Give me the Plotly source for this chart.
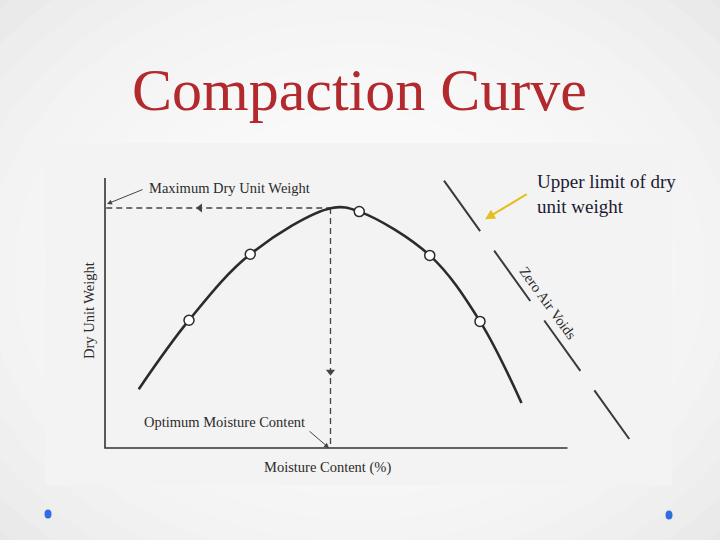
import plotly.graph_objects as go

# ---- data (moisture content %, dry unit weight kN/m3) ----
curve_moisture = [5.35, 7.36, 9.81, 13.07, 14.17, 16.99, 19.00, 20.66]
curve_weight = [14.98, 16.13, 17.23, 18.00, 17.94, 17.21, 16.11, 14.75]
test_moisture = [7.36, 9.81, 14.17, 16.99, 19.00]
test_weight = [16.13, 17.23, 17.94, 17.21, 16.11]
max_dry_weight = 18.00
optimum_moisture = 13.02
zav_moisture = [17.56, 24.97]
zav_weight = [18.455, 14.15]
axis_x = [4.0, 4.0, 22.5]
axis_y = [18.5, 14.0, 14.0]

W, H = 720, 540
FONT = "Liberation Serif"
INK = "#2b2b2b"


def px(x):
    return x / W


def py(y):
    return 1 - y / H


fig = go.Figure()

# axes
fig.add_trace(go.Scatter(x=axis_x, y=axis_y, mode="lines",
                         line=dict(color="#333333", width=1.6), hoverinfo="skip"))
# dashed guide lines
fig.add_trace(go.Scatter(x=[axis_x[0] + 0.05, optimum_moisture], y=[max_dry_weight, max_dry_weight],
                         mode="lines", line=dict(color="#444444", width=1.3, dash="6px,4px")))
fig.add_trace(go.Scatter(x=[optimum_moisture, optimum_moisture], y=[max_dry_weight, axis_y[1]],
                         mode="lines", line=dict(color="#444444", width=1.3, dash="6px,4px")))
fig.add_trace(go.Scatter(x=[7.8], y=[max_dry_weight], mode="markers",
                         marker=dict(symbol="triangle-left", size=8, color="#444444")))
fig.add_trace(go.Scatter(x=[optimum_moisture], y=[15.27], mode="markers",
                         marker=dict(symbol="triangle-down", size=8, color="#444444")))
# compaction curve
fig.add_trace(go.Scatter(x=curve_moisture, y=curve_weight, mode="lines",
                         line=dict(color=INK, width=2.6, shape="spline", smoothing=1.0)))
fig.add_trace(go.Scatter(x=test_moisture, y=test_weight, mode="markers",
                         marker=dict(symbol="circle", size=10, color="white",
                                     line=dict(color=INK, width=1.5))))
# zero air voids
fig.add_trace(go.Scatter(x=zav_moisture, y=zav_weight, mode="lines",
                         line=dict(color="#3a3a3a", width=2, dash="62px,24px")))

# background gradient and panel
shapes = []
for i in range(14):
    s = 0.80 - i * 0.04
    shapes.append(dict(type="circle", xref="paper", yref="paper",
                       x0=0.5 - s, x1=0.5 + s, y0=0.5 - s * 1.05, y1=0.5 + s * 1.05,
                       fillcolor="rgba(255,255,255,0.15)", line=dict(width=0), layer="below"))
shapes.append(dict(type="rect", xref="paper", yref="paper",
                   x0=px(45), x1=px(672), y0=py(485), y1=py(143),
                   fillcolor="#f3f3f3", line=dict(width=0), layer="below"))
for cx, cy in [(48, 514), (669, 515)]:
    shapes.append(dict(type="circle", xref="paper", yref="paper",
                       x0=px(cx - 3.5), x1=px(cx + 3.5), y0=py(cy + 4.5), y1=py(cy - 4.5),
                       fillcolor="#2f6de0", line=dict(width=0), layer="above"))

ann = []
txt = dict(family=FONT, size=14.5, color=INK)
ann.append(dict(x=8.98, y=18.333, text="Maximum Dry Unit Weight", showarrow=False, font=txt,
                xanchor="center", yanchor="middle"))
ann.append(dict(x=8.78, y=14.433, text="Optimum Moisture Content", showarrow=False, font=txt,
                xanchor="center", yanchor="middle"))
ann.append(dict(x=12.88, y=13.667, text="Moisture Content (%)", showarrow=False, font=txt,
                xanchor="center", yanchor="middle"))
ann.append(dict(x=3.36, y=16.283, text="Dry Unit Weight", showarrow=False, font=txt,
                textangle=-90, xanchor="center", yanchor="middle"))
ann.append(dict(x=21.72, y=16.417, text="Zero Air Voids", showarrow=False, font=txt,
                textangle=54, xanchor="center", yanchor="middle"))
# leader arrows
ann.append(dict(x=4.08, y=18.067, ax=5.56, ay=18.317, axref="x", ayref="y", text="",
                showarrow=True, arrowhead=2, arrowsize=1, arrowwidth=1, arrowcolor="#444444"))
ann.append(dict(x=12.96, y=14.0, ax=12.12, ay=14.3, axref="x", ayref="y", text="",
                showarrow=True, arrowhead=2, arrowsize=1, arrowwidth=1, arrowcolor="#444444"))
ann.append(dict(x=19.2, y=17.812, ax=20.93, ay=18.245, axref="x", ayref="y", text="",
                showarrow=True, arrowhead=2, arrowsize=1, arrowwidth=2, arrowcolor="#E5BF1B"))
ann.append(dict(x=21.2, y=18.233, text="Upper limit of dry<br>unit weight", showarrow=False,
                font=dict(family=FONT, size=19, color="#1a1a33"), xanchor="left", yanchor="middle",
                align="left"))
# slide title
ann.append(dict(x=px(359), y=py(90), xref="paper", yref="paper", text="Compaction Curve",
                showarrow=False, font=dict(family=FONT, size=60, color="#B22A2E"),
                xanchor="center", yanchor="middle"))

fig.update_layout(
    width=W, height=H, margin=dict(l=0, r=0, t=0, b=0),
    paper_bgcolor="#d9d9d9", plot_bgcolor="rgba(0,0,0,0)",
    showlegend=False, shapes=shapes, annotations=ann, hovermode=False,
    xaxis=dict(range=[4 - 105 / 25, 4 + 615 / 25], visible=False, fixedrange=True),
    yaxis=dict(range=[14 - 92 / 60, 14 + 448 / 60], visible=False, fixedrange=True),
)
fig.write_html("out.html", config={"displayModeBar": False},
               post_script="document.body.style.margin='0px';document.body.style.padding='0px';")
